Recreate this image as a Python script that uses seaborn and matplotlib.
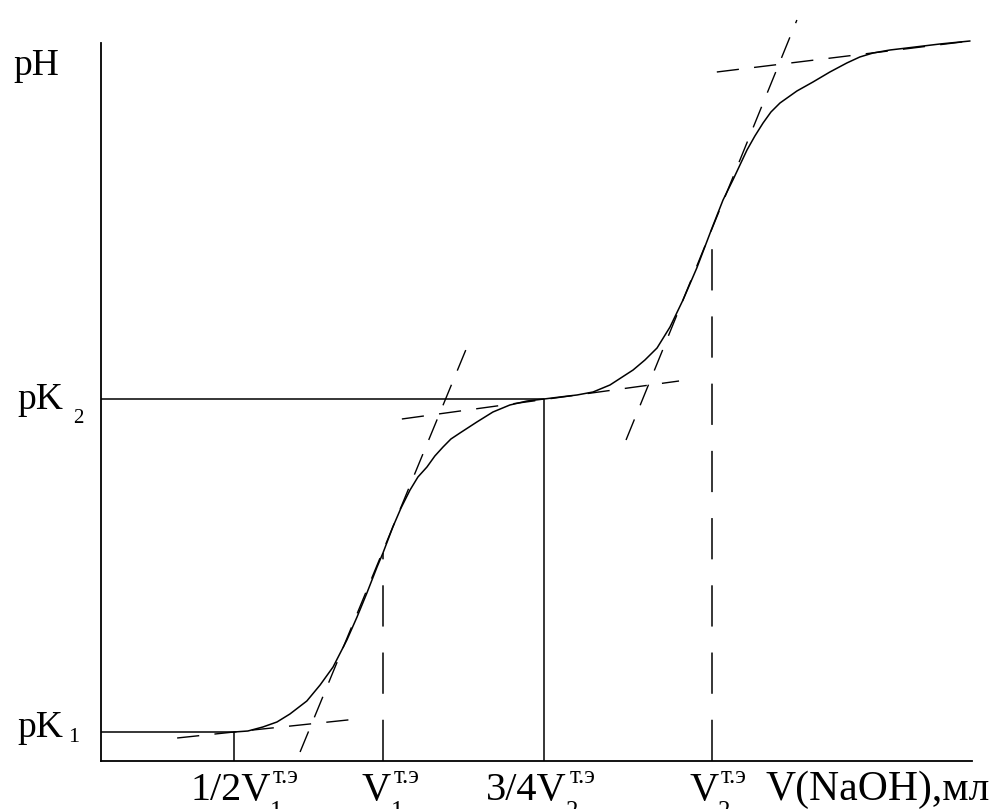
import matplotlib
matplotlib.use("Agg")
import matplotlib.pyplot as plt
import seaborn as sns
import pandas as pd
import numpy as np

# ---------------- data ----------------
vol = [4.72, 5.21, 5.74, 6.24, 6.70, 7.30, 7.77, 8.23, 8.72, 9.08, 9.43, 9.79,
       10.00, 10.35, 10.64, 10.96, 11.24, 11.56, 11.84, 12.13, 12.41, 12.73,
       13.33, 13.90, 14.50, 15.11, 15.71, 16.28, 16.88, 17.45, 18.05, 18.87,
       19.29, 19.72, 20.18, 20.64, 21.13, 21.67, 22.06, 22.41, 22.91, 23.19,
       23.48, 23.76, 24.08, 24.68, 25.25, 25.85, 26.45, 26.91, 27.38, 27.98,
       28.58, 29.75, 30.82]
ph = [0.58, 0.60, 0.68, 0.78, 0.94, 1.20, 1.52, 1.88, 2.42, 2.88, 3.36, 3.88,
      4.16, 4.68, 5.06, 5.42, 5.68, 5.88, 6.10, 6.28, 6.44, 6.56,
      6.78, 6.98, 7.12, 7.20, 7.24, 7.28, 7.32, 7.38, 7.52, 7.82,
      8.02, 8.26, 8.68, 9.22, 9.86, 10.66, 11.22, 11.62, 12.22, 12.50,
      12.76, 12.98, 13.16, 13.40, 13.58, 13.78, 13.96, 14.08, 14.16, 14.22,
      14.26, 14.34, 14.40]

# key points
half_v1, v1, three_quarter_v2, v2 = 4.72, 10.00, 15.71, 21.67
pk1, pk2 = 0.58, 7.24
ph_at_v1, ph_at_v2 = 4.16, 10.62

# tangent segments (start, end)
tangent_names = ["t1", "t2", "t3", "t4", "t5"]
tangent_x = [[2.70, 9.08], [7.06, 13.01], [10.67, 20.50], [18.62, 24.68], [21.84, 30.82]]
tangent_y = [[0.46, 0.84], [0.18, 8.32], [6.84, 7.60], [6.42, 14.82], [13.78, 14.40]]

# axis labels
y_labels = [("pH", ""), ("pK", "2"), ("pK", "1")]
x_labels = [("1/2V", "т.э", "1"), ("V", "т.э", "1"), ("3/4V", "т.э", "2"), ("V", "т.э", "2")]
x_title = "V(NaOH),мл"

x_max, y_max = 30.89, 14.36

# ---------------- figure ----------------
sns.set_style("white")
plt.rcParams["font.family"] = ["Liberation Serif", "DejaVu Serif"]

W, H = 1002, 809
fig = plt.figure(figsize=(W / 100, H / 100), dpi=100)
ax = fig.add_axes([101 / W, 48 / H, 871 / W, 718 / H])

lw = 1.1
# titration curve
curve = pd.DataFrame({"V": vol, "pH": ph})
sns.lineplot(data=curve, x="V", y="pH", sort=False, estimator=None,
             color="black", lw=lw, ax=ax, clip_on=False)

# tangents (dashed)
rows = []
for name, xs, ys in zip(tangent_names, tangent_x, tangent_y):
    for xx, yy in zip(xs, ys):
        rows.append({"V": xx, "pH": yy, "line": name})
tang = pd.DataFrame(rows)
sns.lineplot(data=tang, x="V", y="pH", style="line", units="line",
             estimator=None, sort=False, color="black", lw=1.0,
             dashes={n: (16, 11) for n in tangent_names}, legend=False,
             ax=ax, clip_on=False)

# solid guide lines
solid = pd.DataFrame({
    "V": [0, half_v1, half_v1, np.nan, 0, three_quarter_v2, three_quarter_v2],
    "pH": [pk1, pk1, 0, np.nan, pk2, pk2, 0],
})
ax.plot(solid["V"], solid["pH"], color="black", lw=1.1)

# dashed verticals at equivalence points
vert = pd.DataFrame({"V": [v1, v1, v2, v2], "pH": [0, ph_at_v1, 0, ph_at_v2],
                     "line": ["a", "a", "b", "b"]})
sns.lineplot(data=vert, x="V", y="pH", style="line", units="line",
             estimator=None, sort=False, color="black", lw=1.1,
             dashes={"a": (27, 17), "b": (27, 17)}, legend=False, ax=ax)

ax.set_xlim(0, x_max)
ax.set_ylim(0, y_max)
ax.set_xticks([])
ax.set_yticks([])
ax.set_xlabel("")
ax.set_ylabel("")
for s in ["top", "right"]:
    ax.spines[s].set_visible(False)
for s in ["left", "bottom"]:
    ax.spines[s].set_color("black")
    ax.spines[s].set_linewidth(1.3)


def ftext(px, py, s, size):
    return fig.text(px / W, 1 - py / H, s, fontsize=size, va="baseline",
                    ha="left", color="black")


fig.canvas.draw()
renderer = fig.canvas.get_renderer()

# y labels
ftext(13, 75, y_labels[0][0], 27)
ftext(17, 409, y_labels[1][0], 27)
ftext(73, 423, y_labels[1][1], 15)
ftext(17, 737, y_labels[2][0], 27)
ftext(68, 742, y_labels[2][1], 16)

# x labels (main text + superscript + subscript)
big, small = 29, 18
lefts = [190, 362, 486, 689]
for (main, sup, sub), left in zip(x_labels, lefts):
    t = ftext(left, 800, main, big)
    x1 = t.get_window_extent(renderer).x1
    ftext(x1 + 2.5, 783, sup, small)
    ftext(x1 - 0.5, 818, sub, small)
ftext(765, 800, x_title, 30)

fig.savefig("out.png", dpi=100)
